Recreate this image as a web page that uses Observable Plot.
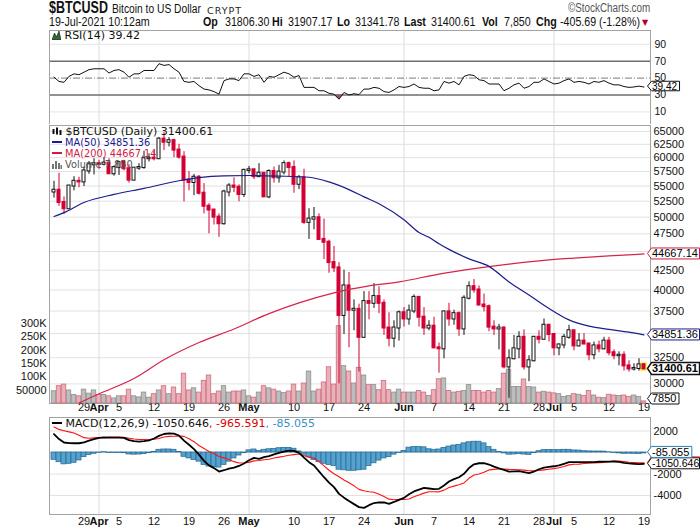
<!DOCTYPE html>
<html>
<head>
<meta charset="utf-8">
<script src="https://cdn.jsdelivr.net/npm/d3@7"></script>
<script src="https://cdn.jsdelivr.net/npm/@observablehq/plot@0.6"></script>
<style>
  html, body { margin: 0; padding: 0; background: #fff; }
  #chart { position: relative; width: 700px; height: 530px; overflow: hidden; background: #fff; }
  .t { position: absolute; white-space: nowrap; z-index: 20; }
  .narrow { font-family: "Liberation Sans", Arial, sans-serif; color: #111; transform: scaleX(0.82); transform-origin: 0 0; }
  .narrowR { font-family: "Liberation Sans", Arial, sans-serif; transform: scaleX(0.82); transform-origin: 100% 0; }
  .l2 { top: 16px; font-size: 13px; line-height: 12px; height: 12px; }
  .lg { font-family: "DejaVu Sans", Verdana, sans-serif; line-height: 12px; height: 12px; }
</style>
</head>
<body>
<div id="chart">
  <div class="t narrow" style="left:49px;top:1px;font-size:16px;line-height:14px;height:14px;font-weight:bold;transform:scaleX(0.78);">$BTCUSD</div>
  <div class="t narrow" style="left:112px;top:4px;font-size:12.5px;line-height:11px;height:11px;">Bitcoin to US Dollar</div>
  <div class="t" style="left:207px;top:6px;font-family:'DejaVu Sans',sans-serif;font-size:9.5px;line-height:9px;letter-spacing:1px;color:#222;">CRYPT</div>
  <div class="t narrowR" style="right:50px;top:3px;font-size:12px;line-height:11px;height:11px;color:#555;">©StockCharts.com</div>
  <div class="t narrow l2" style="left:49px;">19-Jul-2021 10:12am</div>
  <div class="t narrow l2" style="left:203px;font-weight:bold;">Op</div>
  <div class="t narrow l2" style="left:225px;">31806.30</div>
  <div class="t narrow l2" style="left:272px;font-weight:bold;">Hi</div>
  <div class="t narrow l2" style="left:288px;">31907.17</div>
  <div class="t narrow l2" style="left:337px;font-weight:bold;">Lo</div>
  <div class="t narrow l2" style="left:355px;">31341.78</div>
  <div class="t narrow l2" style="left:404px;font-weight:bold;">Last</div>
  <div class="t narrow l2" style="left:431px;">31400.61</div>
  <div class="t narrow l2" style="left:482px;font-weight:bold;">Vol</div>
  <div class="t narrow l2" style="left:504px;">7,850</div>
  <div class="t narrow l2" style="left:536px;font-weight:bold;">Chg</div>
  <div class="t narrow l2" style="left:560px;">-405.69 (-1.28%)</div>
  <div class="t" style="left:642px;top:19px;font-size:8px;line-height:8px;color:#b0002a;font-family:'DejaVu Sans',sans-serif;">▼</div>

  <div class="t lg" style="left:52px;top:30px;font-size:11px;color:#111;"><svg width="9" height="9" style="vertical-align:-1px"><path d="M0,9L2.5,2L4.5,6L7,0L9,9Z" fill="#2f6b3a" stroke="#111" stroke-width="0.6"/></svg> RSI(14) 39.42</div>

  <div class="t lg" style="left:52px;top:126px;font-size:11px;color:#111;"><svg width="10" height="9" style="vertical-align:-1px"><rect x="0.5" y="2" width="2" height="5" fill="#111"/><rect x="4" y="0.5" width="2" height="7" fill="#111"/><rect x="7.5" y="3" width="2" height="5" fill="#111"/></svg> $BTCUSD (Daily) 31400.61</div>
  <div class="t lg" style="left:52px;top:137px;font-size:9.8px;color:#1c1c8e;"><span style="display:inline-block;width:10px;height:2px;background:#1c1c8e;vertical-align:3px"></span> MA(50) 34851.36</div>
  <div class="t lg" style="left:52px;top:148px;font-size:9.8px;color:#d21a45;"><span style="display:inline-block;width:10px;height:2px;background:#d21a45;vertical-align:3px"></span> MA(200) 44667.14</div>
  <div class="t lg" style="left:52px;top:159px;font-size:9.8px;color:#555;"><svg width="10" height="9" style="vertical-align:-1px"><rect x="0" y="4" width="2" height="5" fill="#777"/><rect x="3" y="1" width="2" height="8" fill="#777"/><rect x="6" y="3" width="2" height="6" fill="#777"/><rect x="8.5" y="5" width="1.5" height="4" fill="#777"/></svg> Volume 7,850</div>

  <div class="t lg" style="left:52px;top:418px;font-size:11px;color:#111;"><span style="display:inline-block;width:10px;height:2.5px;background:#000;vertical-align:3px"></span> MACD(12,26,9) -1050.646<span style="color:#e00000">, -965.591</span><span style="color:#3a8fc4">, -85.055</span></div>
</div>
<script>
// ---------- data (Mar 23 .. Jul 19, 2021, one value per day) ----------
const firstDay = "2021-03-23";
const lastDay = "2021-07-19";

const open = [54000,54300,52300,51300,55000,55800,55700,57600,58700,58900,58800,59000,57100,58200,59100,58000,56000,58100,58200,59800,59900,59800,63500,62900,63200,61400,60100,56000,55600,56500,53800,51700,51100,50000,49000,54000,55000,54800,53600,57700,57800,56600,57200,53200,57500,56400,57400,58900,58200,55300,56400,49200,49700,49900,46700,46300,43500,42800,37000,40500,37600,37700,34600,38600,38400,39200,38400,35600,34500,35600,37300,36600,37500,39100,36800,35600,35800,33500,33400,37400,36600,37200,35500,39000,40400,40000,38200,38000,35700,35500,35600,31600,32400,33400,34600,31600,32200,34600,34400,35900,34900,33500,33800,34600,35300,33700,34200,33900,32800,33700,33400,34200,33000,32700,32750,31700,31400,31450,31806.30];
const high = [55800,57200,53200,55100,56600,56500,58300,59300,59800,59500,60000,59800,58500,59200,59500,58700,58200,58900,61200,60700,61200,63800,64800,63800,63500,62500,61100,57500,57000,56800,55400,52100,51200,50500,54300,55400,56400,55200,57900,58400,57900,58900,57200,57800,58300,58600,59400,59200,59400,56800,57900,51300,51500,50500,49700,46600,45700,43500,42500,42200,38800,38300,39800,39800,40800,40400,38800,37300,36400,37500,37900,38200,39400,39200,37900,36400,36800,34000,37500,38400,37600,37400,39300,41000,41300,40500,39500,38200,36400,36000,35700,33300,34800,35200,35400,32700,34700,35300,36600,36000,35000,33900,34900,35900,35300,35000,35000,33900,34100,34200,34600,34600,33300,33100,33100,32200,31900,32400,31907.17];
const low = [53000,51700,50400,51200,54200,54700,54900,57000,56900,57900,58500,57100,56700,56800,57600,55500,55900,57700,57900,59200,59400,59800,61300,62000,60000,59700,52400,54200,53400,53500,50500,47500,48800,47000,48800,53200,53900,52400,53100,57100,56100,56500,53100,52900,55500,55500,56900,56500,53800,54400,48900,46700,48100,46600,43900,42100,42200,30000,34900,33500,35300,31100,34500,36500,37800,37200,34800,33600,33500,34200,35700,35900,37200,35700,34800,35300,33400,31000,32400,35800,35900,34700,34800,38800,39600,38100,37400,35200,34800,33300,31400,28700,32300,32400,31300,30200,32100,33900,34300,34100,32700,32700,33400,34400,33200,33600,33800,32200,32300,33000,33300,32700,32300,31700,31200,31100,31200,31200,31341.78];
const close = [54300,52300,51300,55000,55800,55700,57600,58700,58900,58800,59000,57100,58200,59100,58000,56000,58100,58200,59800,59900,59800,63500,62900,63200,61400,60100,56000,55600,56500,53800,51700,51100,50000,49000,54000,55000,54800,53600,57700,57800,56600,57200,53200,57500,56400,57400,58900,58200,55300,56400,49200,49700,49900,46700,46300,43500,42800,37000,40500,37600,37700,34600,38600,38400,39200,38400,35600,34500,35600,37300,36600,37500,39100,36800,35600,35800,33500,33400,37400,36600,37200,35500,39000,40400,40000,38200,38000,35700,35500,35600,31600,32400,33400,34600,31600,32200,34600,34400,35900,34900,33500,33800,34600,35300,33700,34200,33900,32800,33700,33400,34200,33000,32700,32750,31700,31400,31450,31800,31400.61];
// volume in thousands
const volumeK = [46,65,71,49,32,27,52,37,49,32,32,27,19,27,27,52,27,23,41,22,35,49,65,35,60,35,112,49,57,41,85,105,35,45,65,41,45,45,49,27,22,41,65,57,52,45,39,45,71,45,75,120,45,52,79,136,71,290,140,120,75,134,105,69,69,50,85,50,41,52,41,41,41,47,41,28,50,91,94,47,41,44,47,69,47,47,41,47,41,54,112,127,62,62,90,62,60,41,44,41,38,35,25,28,35,33,28,47,30,22,20,33,30,28,30,25,30,25,7.85];
const rsi14 = [51,46,45,52,55,54,57,60,61, 61,61,56,59,60,57,51,55,55,59, 59,59,67,65,66,61,57,46,45,46, 41,37,36,34,31,47,49,49,47,55, 55,52,54,45,52,51,54,57,55,51, 53,39,39,39,35,35,32,31,25,33, 30,31.5,30.5,37,37,39,38,34,33,36, 40,39,40,43,39,38,38,35,36,46, 44,46,42,52,54,53,48,47,43,43, 43,35,38,42,44,38,40,45,45,49, 46,43,44,47,49,45,46,45,43,46, 45,47,44,42,42,40,39,39.5,40.5,39.42];
const macdLine = [1700,1250,930,870,860,860,950,1100,1240, 1360,1400,1390,1380,1380,1360,1150,1050,1020,1060, 1130,1300,1550,1720,1780,1760,1580,1100,720,310, -200,-780,-1200,-1450,-1770,-1650,-1500,-1400,-1250,-1020, -720,-500,-600,-430,-330,-180,-30,80,180,150, -40,-480,-900,-1210,-1750,-2300,-2800,-3220,-3850,-4200, -4520,-4800,-5080,-5150,-4900,-4700,-4640,-4650,-4770,-4600, -4400,-4220,-3880,-3620,-3450,-3300,-3350,-3400,-3380,-3070, -2700,-2480,-2300,-1980,-1450,-1100,-1000,-990,-1120,-1320, -1480,-1610,-1770,-1760,-1740,-1830,-1920,-1770,-1560,-1400, -1330,-1280,-1200,-1050,-900,-900,-900,-900,-900,-890, -860,-840,-840,-837,-880,-960,-1020,-1060,-1090,-1050.646];
const signalLine = [2380,2150,2030,1920,1820,1600,1380,1320,1360, 1390,1370,1430,1430,1430,1420,1330,1250,1210,1210, 1190,1240,1300,1440,1500,1510,1530,1500,1270,1010, 650,370,100,-100,-370,-500,-650,-850,-970,-960, -920,-780,-750,-680,-630,-510,-430,-350,-250,-200, -140,-280,-450,-510,-850,-1250,-1650,-1970,-2250,-2550, -2820,-3100,-3430,-3550,-3650,-3700,-3890,-4100,-4340,-4400, -4350,-4370,-4330,-4120,-3950,-3780,-3650,-3650,-3660,-3500, -3250,-3130,-3000,-2830,-2400,-2100,-2000,-1840,-1620,-1570, -1530,-1530,-1570,-1580,-1600,-1640,-1700,-1710,-1680,-1620, -1560,-1500,-1420,-1300,-1150,-1090,-1080,-1020,-1000,-980, -950,-920,-860,-800,-800,-840,-910,-940,-960,-965.591];
const macdHist = [-680,-900,-1100,-1050,-960,-740,-430,-220,-120, -30,30,-40,-50,-50,-60,-180,-200,-190,-150, -60,60,250,280,280,250,50,-400,-550,-700, -850,-1150,-1300,-1350,-1400,-1150,-850,-550,-280,-60, 200,280,150,250,300,330,400,430,430,350, 100,-200,-450,-700,-900,-1050,-1150,-1250,-1600,-1650, -1700,-1700,-1650,-1600,-1250,-1000,-750,-550,-430,-200, -50,150,450,500,500,480,300,250,280,430, 550,650,700,850,950,1000,1000,850,500,250, 50,-80,-200,-180,-140,-190,-220,-60,120,220, 230,220,220,250,250,190,180,120,100,90, 90,80,20,-40,-80,-120,-110,-120,-130,-85.055];

// moving averages read at sample dates
const ma50Dates = ["2021-03-23","2021-03-25","2021-03-29","2021-04-04","2021-04-10","2021-04-17","2021-04-21","2021-04-26","2021-05-01","2021-05-07","2021-05-13","2021-05-17","2021-05-21","2021-05-24","2021-05-27","2021-06-01","2021-06-04","2021-06-06","2021-06-08","2021-06-10","2021-06-14","2021-06-18","2021-06-22","2021-06-26","2021-06-30","2021-07-04","2021-07-08","2021-07-12","2021-07-16","2021-07-19"];
const ma50Values = [50100,50700,52300,53600,54600,55900,56450,56750,56800,56700,56500,55700,54400,53200,52100,49600,47700,47000,46100,45300,44000,43000,41000,39400,37800,36500,35800,35450,35150,34851.36];
const ma200Dates = ["2021-03-28","2021-04-01","2021-04-08","2021-04-14","2021-04-21","2021-04-28","2021-05-05","2021-05-11","2021-05-18","2021-05-25","2021-05-31","2021-06-08","2021-06-15","2021-06-22","2021-06-29","2021-07-05","2021-07-12","2021-07-19"];
const ma200Values = [28300,29100,30500,32300,34050,35500,37200,38450,39650,40500,41000,42000,42700,43300,43800,44100,44400,44667.14];

// axis ticks (gridlines) and the tick labels left visible beside the value tags
const priceTicks = [30000,32500,35000,37500,40000,42500,45000,47500,50000,52500,55000,57500,60000,62500,65000];
const priceLabels = [30000,32500,37500,40000,42500,47500,50000,52500,55000,57500,60000,62500,65000];
const volTicksK = [50,100,150,200,250,300];
const rsiTicks = [90,70,50,30,10];
const macdTicks = [2000,0,-2000,-4000];
const macdLabels = [2000,-2000,-4000];
const weekTicks = ["2021-03-29","2021-04-05","2021-04-12","2021-04-19","2021-04-26","2021-05-10","2021-05-17","2021-05-24","2021-06-07","2021-06-14","2021-06-21","2021-06-28","2021-07-05","2021-07-12","2021-07-19"];
const monthTicks = ["2021-04-01","2021-05-01","2021-06-01","2021-07-01"];
const monthNames = ["Apr","May","Jun","Jul"];

// ---------- build ----------
const FONT = "'Liberation Sans', Arial, Helvetica, sans-serif";
const DAY = 864e5;
const dates = d3.utcDay.range(new Date(firstDay), new Date(+new Date(lastDay) + DAY));
const bars = dates.map((date, i) => {
  const prev = i ? close[i - 1] : open[i];
  return {
    date, open: open[i], high: high[i], low: low[i], close: close[i], vol: volumeK[i],
    up: close[i] >= prev, hollow: close[i] > open[i],
    bx1: new Date(+date - 0.3 * DAY), bx2: new Date(+date + 0.3 * DAY),
    vx1: new Date(+date - 0.45 * DAY), vx2: new Date(+date + 0.45 * DAY),
    hx1: new Date(+date - 0.5 * DAY), hx2: new Date(+date + 0.5 * DAY),
    rsi: rsi14[i], macd: macdLine[i], signal: signalLine[i], hist: macdHist[i]
  };
});
const last = bars[bars.length - 1];
const ma50 = ma50Dates.map((d, i) => ({date: new Date(d), v: ma50Values[i]}));
const ma200 = ma200Dates.map((d, i) => ({date: new Date(d), v: ma200Values[i]}));
const weekDates = weekTicks.map(d => new Date(d));
const monthDates = monthTicks.map(d => new Date(d));

const xDomain = [new Date(Date.UTC(2021, 2, 22, 2, 24)), new Date(Date.UTC(2021, 6, 20, 7, 12))];
const geo = (h, mt, mb) => ({width: 700, height: h, marginTop: mt, marginBottom: mb, marginLeft: 49, marginRight: 50});
const st = (bg, fs = "11px") => ({fontFamily: FONT, fontSize: fs, color: "#111", background: bg, overflow: "visible"});
const X = {domain: xDomain, axis: null};
const RED = "#d20034", BLK = "#111";

const xLabels = (dy) => [
  Plot.text(weekDates, {x: d => d, text: d => String(d.getUTCDate()), frameAnchor: "bottom", dy, fill: "#111"}),
  Plot.text(monthDates, {x: d => d, text: (d, i) => monthNames[i], frameAnchor: "bottom", dy, fontWeight: "bold", fill: "#111"})
];

const container = document.getElementById("chart");
function place(svg, top, z) {
  svg.style.position = "absolute"; svg.style.left = "0px"; svg.style.top = top + "px"; svg.style.zIndex = z;
  container.appendChild(svg); return svg;
}
function tag(svg, y, label, color, opt = {}) {
  const g = d3.select(svg).append("g");
  const path = g.append("path");
  const text = g.append("text").attr("x", 652).attr("y", y).attr("dy", "0.36em")
    .attr("text-anchor", "start")
    .attr("font-family", FONT).attr("font-size", opt.size || 11)
    .attr("font-weight", opt.bold ? "bold" : "normal").attr("fill", "#000").text(label);
  const w = opt.width || text.node().getComputedTextLength();
  if (opt.hideText) text.remove();
  const h = opt.h || 11, x0 = 647.5;
  path.attr("d", `M${x0},${y}L${x0 + 4},${y - h / 2}H${Math.min(699.5, 652 + w + 2.5)}V${y + h / 2}H${x0 + 4}Z`)
    .attr("fill", "#fff").attr("stroke", color).attr("stroke-width", opt.sw || 1);
}

// RSI panel
const rsiPlot = place(Plot.plot({
  ...geo(97, 1, 1), style: st("white", "10.5px"), x: X,
  y: {domain: [-6.1, 106.3], axis: null},
  marks: [
    Plot.ruleX(monthDates, {stroke: "#dcdcdc"}),
    Plot.ruleY([90, 10], {stroke: "#e6e6e6"}),
    Plot.ruleY([70, 30], {stroke: "#6e6e6e", strokeWidth: 1.4}),
    Plot.ruleY([50], {stroke: "#7a7a7a", strokeDasharray: "7,2,1,2"}),
    Plot.areaY(bars, {x: "date", y1: 30, y2: d => Math.min(30, d.rsi), fill: "#9a5656"}),
    Plot.line(bars, {x: "date", y: "rsi", stroke: "#111", strokeWidth: 1}),
    Plot.frame({stroke: "#a3a3a3"}),
    Plot.text(rsiTicks, {y: d => d, text: d => String(d), frameAnchor: "right", dx: 4, textAnchor: "start", fill: "#111"})
  ]
}), 29, 1);
tag(rsiPlot, rsiPlot.scale("y").apply(39.42) - 0.5, "39.42", "#111", {size: 10, h: 9.5});

// Price background (grid, axis labels)
const priceBg = place(Plot.plot({
  ...geo(292, 1, 13), style: st("white"), x: X,
  y: {type: "log", domain: [28250, 66206], axis: null},
  marks: [
    Plot.ruleY(priceTicks, {stroke: "#e2e2e2"}),
    Plot.ruleX(monthDates, {stroke: "#dcdcdc"}),
    Plot.frame({stroke: "#a3a3a3"}),
    Plot.text(priceLabels, {y: d => d, text: d => String(d), frameAnchor: "right", dx: 3, textAnchor: "start", fill: "#111"}),
    ...xLabels(7.5)
  ]
}), 124, 2);

// Volume overlay
const volPlot = place(Plot.plot({
  ...geo(292, 1, 13), style: st("transparent"), x: X,
  y: {domain: [0, 1043], axis: null},
  marks: [
    Plot.rect(bars.filter(d => d.up), {x1: "vx1", x2: "vx2", y1: 0, y2: "vol", fill: "#bdbdbd", stroke: "#8e8e8e", strokeWidth: 0.8}),
    Plot.rect(bars.filter(d => !d.up), {x1: "vx1", x2: "vx2", y1: 0, y2: "vol", fill: "#e8b0b8", stroke: "#d26a7c", strokeWidth: 0.8}),
    Plot.text(volTicksK, {y: d => d, text: d => d === 50 ? "50000" : d + "K", frameAnchor: "left", dx: -3, textAnchor: "end", fill: "#111"})
  ]
}), 124, 3);

// Candles + moving averages
const pricePlot = place(Plot.plot({
  ...geo(292, 1, 13), style: st("transparent"), x: X,
  y: {type: "log", domain: [28250, 66206], axis: null},
  marks: [
    Plot.rect([last], {x1: d => new Date(+d.date - 0.72 * DAY), x2: d => new Date(+d.date + 0.72 * DAY), y1: "low", y2: "high", fill: "#fff35a", insetTop: -1, insetBottom: -2}),
    Plot.ruleX(bars.filter(d => d.up), {x: "date", y1: "low", y2: "high", stroke: BLK, strokeWidth: 1}),
    Plot.ruleX(bars.filter(d => !d.up), {x: "date", y1: "low", y2: "high", stroke: RED, strokeWidth: 1}),
    Plot.rect(bars.filter(d => d.up && d.hollow), {x1: "bx1", x2: "bx2", y1: "open", y2: "close", fill: "#fff", stroke: BLK, strokeWidth: 1, insetTop: -0.5, insetBottom: -0.5}),
    Plot.rect(bars.filter(d => d.up && !d.hollow), {x1: "bx1", x2: "bx2", y1: "open", y2: "close", fill: BLK, stroke: BLK, strokeWidth: 1, insetTop: -0.5, insetBottom: -0.5}),
    Plot.rect(bars.filter(d => !d.up && d.hollow), {x1: "bx1", x2: "bx2", y1: "open", y2: "close", fill: "#fff", stroke: RED, strokeWidth: 1, insetTop: -0.5, insetBottom: -0.5}),
    Plot.rect(bars.filter(d => !d.up && !d.hollow), {x1: "bx1", x2: "bx2", y1: "open", y2: "close", fill: RED, stroke: RED, strokeWidth: 1, insetTop: -0.5, insetBottom: -0.5}),
    Plot.line(ma200, {x: "date", y: "v", stroke: "#d8234c", strokeWidth: 1.2, curve: "monotone-x"}),
    Plot.line(ma50, {x: "date", y: "v", stroke: "#1c1c8e", strokeWidth: 1.2, curve: "monotone-x"})
  ]
}), 124, 4);
const py = pricePlot.scale("y");
tag(pricePlot, py.apply(44667.14), "44667.14", "#d21a45");
tag(pricePlot, py.apply(34851.36), "34851.36", "#1c1c8e");
tag(pricePlot, py.apply(31400.61), "31400.61", "#111", {bold: true, sw: 1.4, h: 12});
tag(volPlot, Math.min(volPlot.scale("y").apply(7.85), 274.5), "7850", "#111");

// MACD panel
const macdPlot = place(Plot.plot({
  ...geo(114, 1, 16), style: st("white"), x: X,
  y: {domain: [-5767, 3256], axis: null},
  marks: [
    Plot.ruleY(macdTicks, {stroke: "#e2e2e2"}),
    Plot.ruleX(monthDates, {stroke: "#dcdcdc"}),
    Plot.rect(bars, {x1: "hx1", x2: "hx2", y1: 0, y2: "hist", fill: "#55a2cf", stroke: "#2b6e99", strokeWidth: 0.8}),
    Plot.line(bars, {x: "date", y: "signal", stroke: "#ff1414", strokeWidth: 1.1}),
    Plot.line(bars, {x: "date", y: "macd", stroke: "#000", strokeWidth: 1.8}),
    Plot.frame({stroke: "#a3a3a3"}),
    Plot.text(macdLabels, {y: d => d, text: d => String(d), frameAnchor: "right", dx: 3, textAnchor: "start", fill: "#111"}),
    ...xLabels(10.5)
  ]
}), 416, 5);
const my = macdPlot.scale("y");
tag(macdPlot, my.apply(-965.591), "-965.591", "#ff1414", {hideText: true, width: 50});
tag(macdPlot, my.apply(-1050.646), "-1050.646", "#111", {size: 10.5});
tag(macdPlot, my.apply(-85.055) - 1, "-85.055", "#2b7fb8");
</script>
</body>
</html>
